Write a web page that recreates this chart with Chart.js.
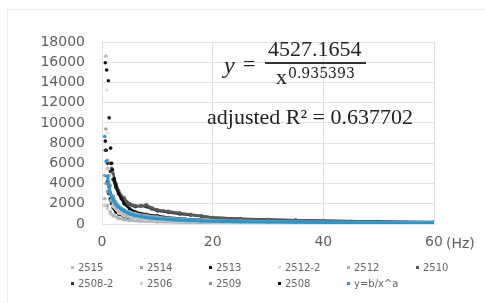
<!DOCTYPE html>
<html>
<head>
<meta charset="utf-8">
<script src="https://cdn.jsdelivr.net/npm/chart.js@4.4.1/dist/chart.umd.min.js"></script>
<style>
  html, body { margin: 0; padding: 0; background: #fff; }
  #wrap { position: relative; width: 485px; height: 303px; overflow: hidden; }
  #frame { position: absolute; left: 7px; top: 9px; width: 520px; height: 320px; border: 1px solid #ececec; box-sizing: border-box; }
  canvas { position: absolute; left: 0; top: 0; }
  .t { position: absolute; white-space: nowrap; color: #222; font-family: "Liberation Serif", serif; line-height: 1; }
  #hz { position: absolute; left: 446px; top: 235px; font: 14px "DejaVu Sans", sans-serif; color: #5f5f5f; }
  .lg { position: absolute; font: 10px "DejaVu Sans", sans-serif; color: #666; white-space: nowrap; line-height: 1; }
  .lg i { position: absolute; left: -7px; top: 3px; width: 3px; height: 3px; }
</style>
</head>
<body>
<div id="wrap">
  <div id="frame"></div>
  <canvas id="c" width="485" height="303"></canvas>
  <span class="t" style="left:224px;top:53px;font-size:24px;font-style:italic;">y</span>
  <span class="t" style="left:243px;top:53px;font-size:22px;">=</span>
  <span class="t" style="left:268px;top:38px;font-size:22px;">4527.1654</span>
  <div style="position:absolute;left:265px;top:62px;width:101px;height:1.5px;background:#333;"></div>
  <span class="t" style="left:276px;top:66px;font-size:22px;">x</span>
  <span class="t" style="left:288px;top:66px;font-size:14px;font-family:'DejaVu Serif',serif;">0.935393</span>
  <span class="t" style="left:207px;top:106px;font-size:22px;">adjusted R² = 0.637702</span>
  <span id="hz">(Hz)</span>
  <div id="legend"></div>
</div>
<script>
// ---- data (frequency Hz, value) ----
const labels = ["2515", "2514", "2513", "2512-2", "2512", "2510", "2508-2", "2506", "2509", "2508", "y=b/x^a"];
const colors = ["#bdbdbd", "#a0a0a0", "#111111", "#dedede", "#b3b3b3", "#5a5a5a", "#333333", "#cccccc", "#8e8e8e", "#000000", "#1e9ad6"];

const s2515 = [[0.7,16600],[1,5500],[1.25,4000],[1.5,3000],[1.75,2400],[2,2000],[2.5,1500],[3,1200],[4,900],[5,700],[7,500],[10,380],[15,280],[20,220],[30,160],[40,130],[50,110],[60,100]];
const s2514 = [[0.7,9400],[1,6300],[1.25,4800],[1.5,3800],[2,2800],[2.5,2200],[3,1800],[4,1400],[5,1200],[6,1050],[8,850],[10,700],[12,600],[15,480],[20,380],[25,320],[30,280],[40,220],[50,180],[60,150]];
const s2513 = [[0.6,15950],[0.85,15230],[1.15,14170],[1.3,10500],[1.55,7500],[1.75,6000],[1.9,5350],[2.2,4500],[2.5,3800],[3,3000],[3.5,2500],[4,2000],[5,1500],[6,1200],[8,950],[10,800],[12,650],[15,500],[20,380],[25,300],[30,260],[40,200],[50,160],[60,130]];
const s2512b = [[0.85,13250],[1,9000],[1.25,4000],[1.5,2800],[2,1800],[3,1100],[4,800],[6,550],[8,420],[10,350],[15,250],[20,200],[30,150],[40,120],[60,90]];
const s2512 = [[0.5,2500],[1,1800],[1.5,1200],[2,900],[3,600],[4,450],[5,380],[7,300],[10,220],[15,160],[20,130],[30,100],[40,80],[60,60]];
const s2510 = [[1.5,6000],[1.75,5500],[2,5000],[2.5,4000],[3,3300],[3.5,2800],[4,2600],[4.5,2200],[5,2000],[6,1800],[7,1750],[8,1900],[9,1600],[10,1400],[11,1300],[12,1250],[14,1100],[16,950],[18,800],[20,650],[25,500],[30,420],[35,380],[40,320],[45,260],[50,220],[55,180],[60,160]];
const s2508b = [[0.6,7300],[1,6000],[1.5,5200],[2,4400],[2.5,3600],[3,3000],[3.5,2600],[4,2300],[5,1900],[6,1700],[7,1800],[8,1700],[9,1500],[10,1300],[12,1150],[14,1000],[16,880],[18,760],[20,640],[25,520],[30,440],[35,380],[40,320],[50,250],[60,200]];
const s2506 = [[0.5,1800],[1,1500],[1.5,1000],[2,800],[3,520],[4,400],[5,320],[7,250],[10,190],[15,140],[20,110],[30,90],[40,70],[60,50]];
const s2509 = [[0.5,4800],[0.75,4000],[1,3200],[1.5,2300],[2,1700],[3,1200],[4,950],[5,800],[6,700],[8,560],[10,480],[12,420],[15,350],[20,280],[30,210],[40,170],[50,140],[60,120]];
const s2508 = [[0.6,8200],[0.75,7300],[1,4200],[1.25,3000],[1.5,2500],[1.75,2000],[2,1600],[2.5,1200],[3,1000],[4,750],[5,600],[6,520],[8,420],[10,360],[12,300],[15,250],[20,200],[30,150],[40,120],[50,100],[60,90]];
const sFit = [[0.5,8658],[0.75,6200],[1,4700],[1.25,3674],[1.5,3098],[1.75,2682],[2,2367],[2.5,1921],[3,1650],[3.5,1450],[4,1280],[5,1005],[6,847],[7,733],[8,647],[9,580],[10,525],[12,443],[14,383],[16,338],[18,303],[20,275],[25,223],[30,188],[35,163],[40,144],[45,129],[50,117],[55,107],[60,98]];

const series = [s2515, s2514, s2513, s2512b, s2512, s2510, s2508b, s2506, s2509, s2508, sFit];
const xTicks = [0, 20, 40, 60];
const yMax = 18000, yStep = 2000;

const datasets = series.map((s, i) => {
  const isFit = i === series.length - 1;
  const col = colors[i];
  const from = isFit ? 1 : 2;
  return {
    label: labels[i],
    data: s.map(p => ({ x: p[0], y: p[1] })),
    showLine: true,
    borderColor: col,
    backgroundColor: col,
    borderWidth: isFit ? 3 : 2.5,
    pointRadius: isFit ? 1.8 : 1.8,
    pointBorderWidth: 0,
    order: isFit ? -1 : 0,
    segment: { borderColor: ctx => (ctx.p0.parsed.x >= from ? col : 'rgba(0,0,0,0)') }
  };
});

new Chart(document.getElementById('c'), {
  type: 'scatter',
  data: { datasets },
  options: {
    responsive: false,
    animation: false,
    devicePixelRatio: 1,
    layout: { padding: { left: 0, right: 51, top: 42, bottom: 0 } },
    plugins: { legend: { display: false }, tooltip: { enabled: false } },
    scales: {
      x: {
        type: 'linear', min: 0, max: 60,
        afterBuildTicks: s => { s.ticks = xTicks.map(v => ({ value: v })); },
        afterFit: s => { s.height = 79; },
        grid: { color: '#e2e2e2', drawTicks: false },
        border: { color: '#e2e2e2' },
        ticks: { padding: 10, color: '#5f5f5f', font: { family: 'DejaVu Sans', size: 14 }, callback: v => String(v) }
      },
      y: {
        min: 0, max: yMax,
        ticks: { stepSize: yStep, padding: 17, color: '#5f5f5f', font: { family: 'DejaVu Sans', size: 14 }, callback: v => String(v) },
        afterFit: s => { s.width = 102; },
        grid: { color: '#e2e2e2', drawTicks: false },
        border: { color: '#e2e2e2' }
      }
    }
  }
});

// HTML legend built from labels/colors
const lg = document.getElementById('legend');
labels.forEach((name, i) => {
  const col = i % 6, row = Math.floor(i / 6);
  const d = document.createElement('span');
  d.className = 'lg';
  d.style.left = (78 + col * 69) + 'px';
  d.style.top = (263 + row * 16) + 'px';
  d.innerHTML = '<i style="background:' + colors[i] + '"></i>' + name;
  lg.appendChild(d);
});
</script>
</body>
</html>
